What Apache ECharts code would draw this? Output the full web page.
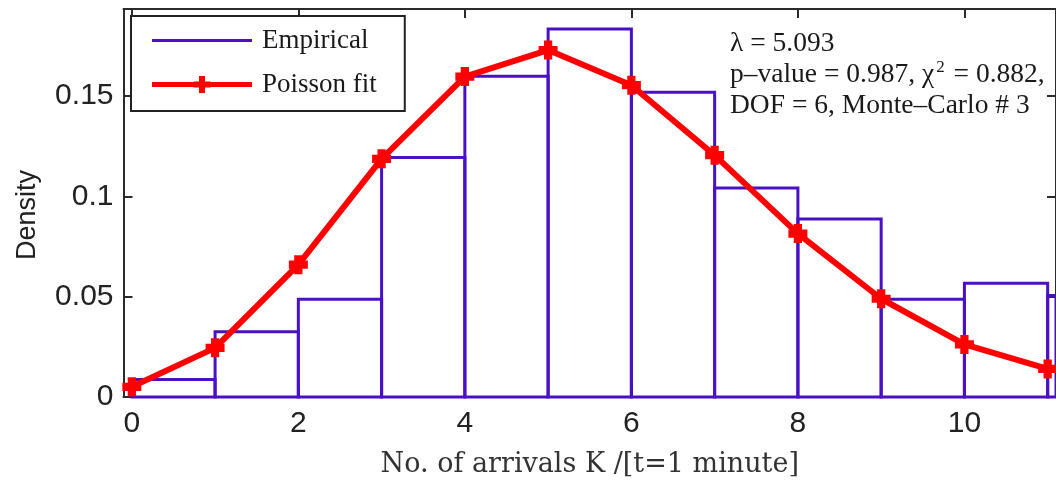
<!DOCTYPE html>
<html><head><meta charset="utf-8">
<script src="https://cdn.jsdelivr.net/npm/echarts@6/dist/echarts.min.js"></script>
<style>html,body{margin:0;padding:0;background:#fff}#c{width:1056px;height:483px}</style>
</head><body><div id="c"></div>
<script>
// ---- data ----
const binStarts = [0, 1, 2, 3, 4, 5, 6, 7, 8, 9, 10, 11];
const empirical = [0.0087, 0.0325, 0.0487, 0.1195, 0.1600, 0.1835, 0.1520, 0.1042, 0.0888, 0.0487, 0.0567, 0.0506];
const kValues = [0, 1, 2, 3, 4, 5, 6, 7, 8, 9, 10, 11];
const poissonFit = [0.0051, 0.0245, 0.0660, 0.1188, 0.1598, 0.1730, 0.1555, 0.1206, 0.0815, 0.0490, 0.0262, 0.0140];
const xTicks = [0, 2, 4, 6, 8, 10];
const yTicks = [0, 0.05, 0.1, 0.15];
const seriesNames = ['Empirical', 'Poisson fit'];
const xTitle = 'No. of arrivals K /[t=1 minute]';
const yTitle = 'Density';
const annotLine1 = 'λ = 5.093';
const annotLine2a = 'p–value = 0.987, χ';
const annotLine2sup = '2';
const annotLine2b = ' = 0.882,';
const annotLine3 = 'DOF = 6, Monte–Carlo # 3';

const PURPLE = '#4a10c4';
const RED = '#ff0000';
const AXIS = '#2b2b2b';

const corners = 'M0,0h0.01v0.01h-0.01Z M104.99,30.99h0.01v0.01h-0.01Z ';
const empIcon = 'path://' + corners + 'M0,14H100V17H0Z';
const poisIcon = 'path://' + corners + 'M0,13H100V18H0Z M47,7H53V12.5H58.5V18.5H53V24H47V18.5H41.5V12.5H47Z';
const plusSym = 'path://M-1.3,-3H1.3V-1.3H3V1.3H1.3V3H-1.3V1.3H-3V-1.3H-1.3Z';

const chart = echarts.init(document.getElementById('c'), null, {renderer: 'canvas'});

const tickCommon = {show: true, inside: true, length: 9, lineStyle: {color: AXIS, width: 2}};
const lineCommon = {show: true, onZero: false, lineStyle: {color: AXIS, width: 2}};
const serif = {fontFamily: 'Liberation Serif', fontWeight: 'normal', color: '#1a1a1a'};

chart.setOption({
  animation: false,
  backgroundColor: '#fff',
  grid: {left: 123.5, top: 9, width: 935.5, height: 389.5, containLabel: false},
  title: {
    left: 730, top: 28, padding: 0,
    text: '{a|' + annotLine1 + '}\n{a|' + annotLine2a + '}{s|' + annotLine2sup + '}{a|' + annotLine2b + '}\n{a|' + annotLine3 + '}',
    textStyle: {
      fontWeight: 'normal',
      rich: {
        a: Object.assign({fontSize: 27.5, lineHeight: 31}, serif),
        s: Object.assign({fontSize: 17, lineHeight: 31, verticalAlign: 'top', padding: [0, 2, 0, 2]}, serif)
      }
    }
  },
  legend: {
    orient: 'vertical', left: 131, top: 16,
    data: [{name: seriesNames[0], icon: empIcon}, {name: seriesNames[1], icon: poisIcon}],
    itemWidth: 105, itemHeight: 31, itemGap: 13,
    padding: [9, 28, 11, 21],
    borderColor: '#222', borderWidth: 2, backgroundColor: '#fff',
    itemStyle: {borderWidth: 0},
    textStyle: Object.assign({fontSize: 27}, serif),
    selectedMode: false
  },
  xAxis: [{
    type: 'value', min: -0.1, max: 11.1, position: 'bottom',
    axisLine: lineCommon,
    axisTick: Object.assign({customValues: xTicks}, tickCommon),
    axisLabel: {customValues: xTicks, margin: 12, fontFamily: 'Liberation Sans', fontSize: 30, color: '#222'},
    splitLine: {show: false},
    name: xTitle, nameLocation: 'middle', nameGap: 54,
    nameTextStyle: {fontFamily: 'DejaVu Serif', fontSize: 27, color: '#333'}
  }, {
    type: 'value', min: -0.1, max: 11.1, position: 'top',
    axisLine: lineCommon,
    axisTick: Object.assign({customValues: xTicks}, tickCommon),
    axisLabel: {show: false},
    splitLine: {show: false}
  }],
  yAxis: [{
    type: 'value', min: 0, max: 0.1935, position: 'left',
    axisLine: lineCommon,
    axisTick: Object.assign({customValues: yTicks}, tickCommon),
    axisLabel: {customValues: yTicks, margin: 10, fontFamily: 'Liberation Sans', fontSize: 30, color: '#222'},
    splitLine: {show: false},
    name: yTitle, nameLocation: 'middle', nameGap: 82, nameRotate: 90,
    nameTextStyle: {fontFamily: 'Liberation Sans', fontSize: 27, color: '#222', padding: [0, 24, 0, 0]}
  }, {
    type: 'value', min: 0, max: 0.1935, position: 'right',
    axisLine: lineCommon,
    axisTick: Object.assign({customValues: yTicks}, tickCommon),
    axisLabel: {show: false},
    splitLine: {show: false}
  }],
  series: [{
    name: seriesNames[0],
    type: 'custom',
    xAxisIndex: 0, yAxisIndex: 0,
    itemStyle: {color: PURPLE},
    encode: {x: [0, 1], y: 2},
    data: binStarts.map((s, i) => [s, s + 1, empirical[i]]),
    renderItem: function (params, api) {
      const p0 = api.coord([api.value(0), api.value(2)]);
      const p1 = api.coord([api.value(1), 0]);
      const cs = params.coordSys;
      const rect = echarts.graphic.clipRectByRect(
        {x: p0[0], y: p0[1], width: p1[0] - p0[0], height: p1[1] - p0[1]},
        {x: cs.x, y: cs.y, width: cs.width, height: cs.height});
      if (!rect) return;
      return {type: 'rect', shape: rect, style: {fill: 'none', stroke: PURPLE, lineWidth: 3}};
    },
    z: 2
  }, {
    name: seriesNames[1],
    type: 'line',
    xAxisIndex: 0, yAxisIndex: 0,
    data: kValues.map((k, i) => [k, poissonFit[i]]),
    symbol: plusSym, symbolSize: 19,
    itemStyle: {color: RED},
    lineStyle: {color: RED, width: 6},
    z: 3
  }]
});
</script></body></html>
